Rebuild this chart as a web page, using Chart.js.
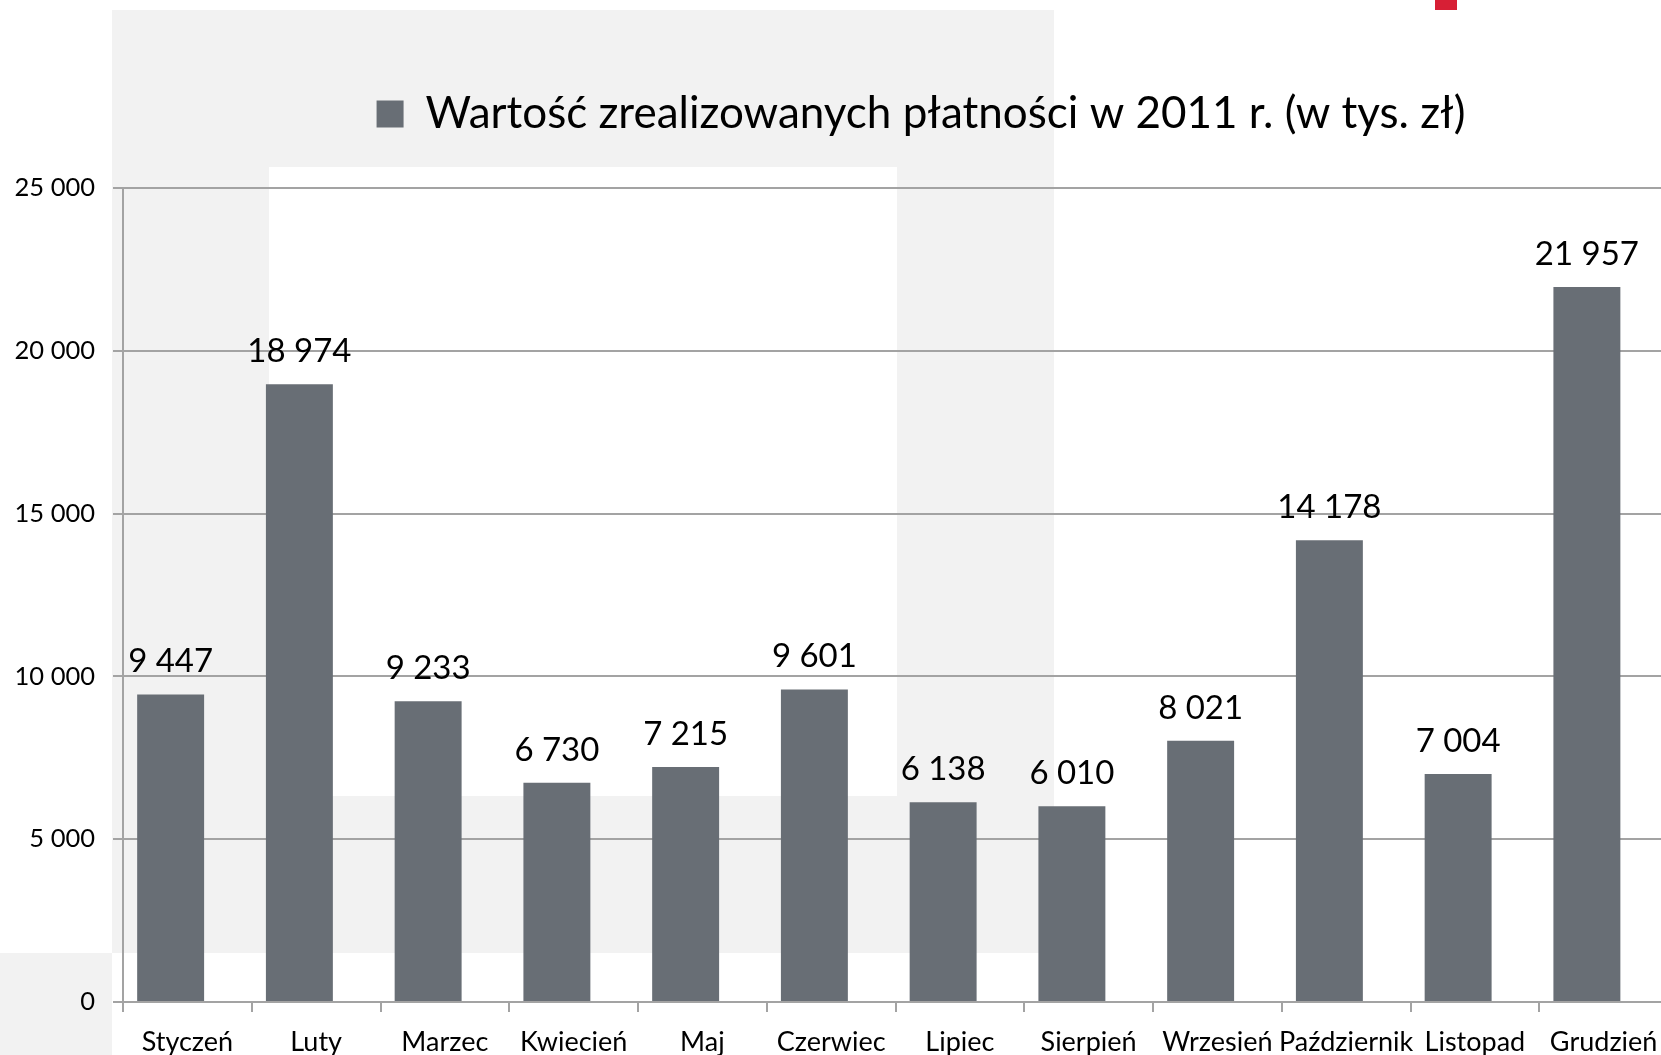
<!DOCTYPE html>
<html>
<head>
<meta charset="utf-8">
<script src="https://cdn.jsdelivr.net/npm/chart.js@4.4.0/dist/chart.umd.min.js"></script>
<style>
    html, body { margin: 0; padding: 0; background: #fff; }
    body { width: 1661px; height: 1055px; position: relative; overflow: hidden; }
    .deco { position: absolute; }
    #wrap { position: absolute; left: 0; top: 0; width: 1680px; height: 1075px; }
</style>
</head>
<body>
<div class="deco" style="left:112px;top:10px;width:942px;height:943px;background:#f2f2f2"></div>
<div class="deco" style="left:269px;top:167px;width:628px;height:629px;background:#fff"></div>
<div class="deco" style="left:0;top:953px;width:112px;height:102px;background:#f2f2f2"></div>
<div class="deco" style="left:1435px;top:0;width:22px;height:10px;background:#d71f35"></div>
<div id="wrap"><canvas id="barCanvas"></canvas></div>
<script>
const months = ['Styczeń', 'Luty', 'Marzec', 'Kwiecień', 'Maj', 'Czerwiec',
    'Lipiec', 'Sierpień', 'Wrzesień', 'Październik', 'Listopad', 'Grudzień'];
const payments = [9447, 18974, 9233, 6730, 7215, 9601, 6138, 6010, 8021, 14178, 7004, 21957];
const seriesLabel = 'Wartość zrealizowanych płatności w 2011 r. (w tys. zł)';
const yTicks = [0, 5000, 10000, 15000, 20000, 25000];

(() => {
    const canvas = document.getElementById('barCanvas');
    const barColor = '#686e75';
    const gridColor = '#a3a3a3';
    const font = 'Lato';

    const fmt = v => String(v).replace(/\B(?=(\d{3})+(?!\d))/g, ' ');

    // value labels above the bars
    const valueLabels = {
        id: 'valueLabels',
        afterDatasetsDraw(chart) {
            const { ctx } = chart;
            const meta = chart.getDatasetMeta(0);
            ctx.save();
            ctx.font = '33px ' + font;
            ctx.fillStyle = '#000';
            ctx.textAlign = 'center';
            ctx.textBaseline = 'alphabetic';
            meta.data.forEach((bar, i) => {
                ctx.fillText(fmt(payments[i]), bar.x, bar.y - 22);
            });
            ctx.restore();
        }
    };

    // nudge the legend to where the original put it
    const legendOffset = {
        id: 'legendOffset',
        afterLayout(chart) {
            const lg = chart.legend;
            const dx = 87, dy = -42;
            lg.left += dx; lg.right += dx;
            lg.top += dy; lg.bottom += dy;
        }
    };

    const data = {
        labels: months,
        datasets: [{
            label: seriesLabel,
            data: payments,
            backgroundColor: barColor,
            borderColor: barColor,
            borderWidth: 0
        }, {
            // empty second series, as in the source sheet: shifts bars left
            label: '',
            data: [],
            backgroundColor: barColor
        }]
    };

    const options = {
        responsive: true,
        maintainAspectRatio: false,
        animation: false,
        categoryPercentage: 0.52,
        barPercentage: 2.0,
        layout: { padding: { left: 0, right: 12, top: 124, bottom: 0 } },
        plugins: {
            legend: {
                position: 'top',
                labels: {
                    filter: item => item.datasetIndex === 0,
                    boxWidth: 27,
                    boxHeight: 27,
                    padding: 10,
                    color: '#000',
                    font: { family: font, size: 44 }
                }
            },
            tooltip: { enabled: false }
        },
        scales: {
            x: {
                grid: {
                    offset: true,
                    drawOnChartArea: false,
                    color: gridColor,
                    lineWidth: 2,
                    tickLength: 10
                },
                border: { color: gridColor, width: 2 },
                ticks: {
                    color: '#000',
                    padding: 14,
                    maxRotation: 0,
                    autoSkip: false,
                    font: { family: font, size: 27 }
                },
                afterFit: s => { s.height = 73; }
            },
            y: {
                min: 0,
                max: 25000,
                afterBuildTicks: s => { s.ticks = yTicks.map(v => ({ value: v })); },
                grid: { color: gridColor, lineWidth: 2, tickLength: 10 },
                border: { color: gridColor, width: 2 },
                ticks: {
                    color: '#000',
                    padding: 18,
                    font: { family: font, size: 25.5 },
                    callback: v => fmt(v)
                },
                afterFit: s => { s.width = 123; }
            }
        }
    };

    new Chart(canvas, { type: 'bar', data, options, plugins: [valueLabels, legendOffset] });
})();
</script>
</body>
</html>
